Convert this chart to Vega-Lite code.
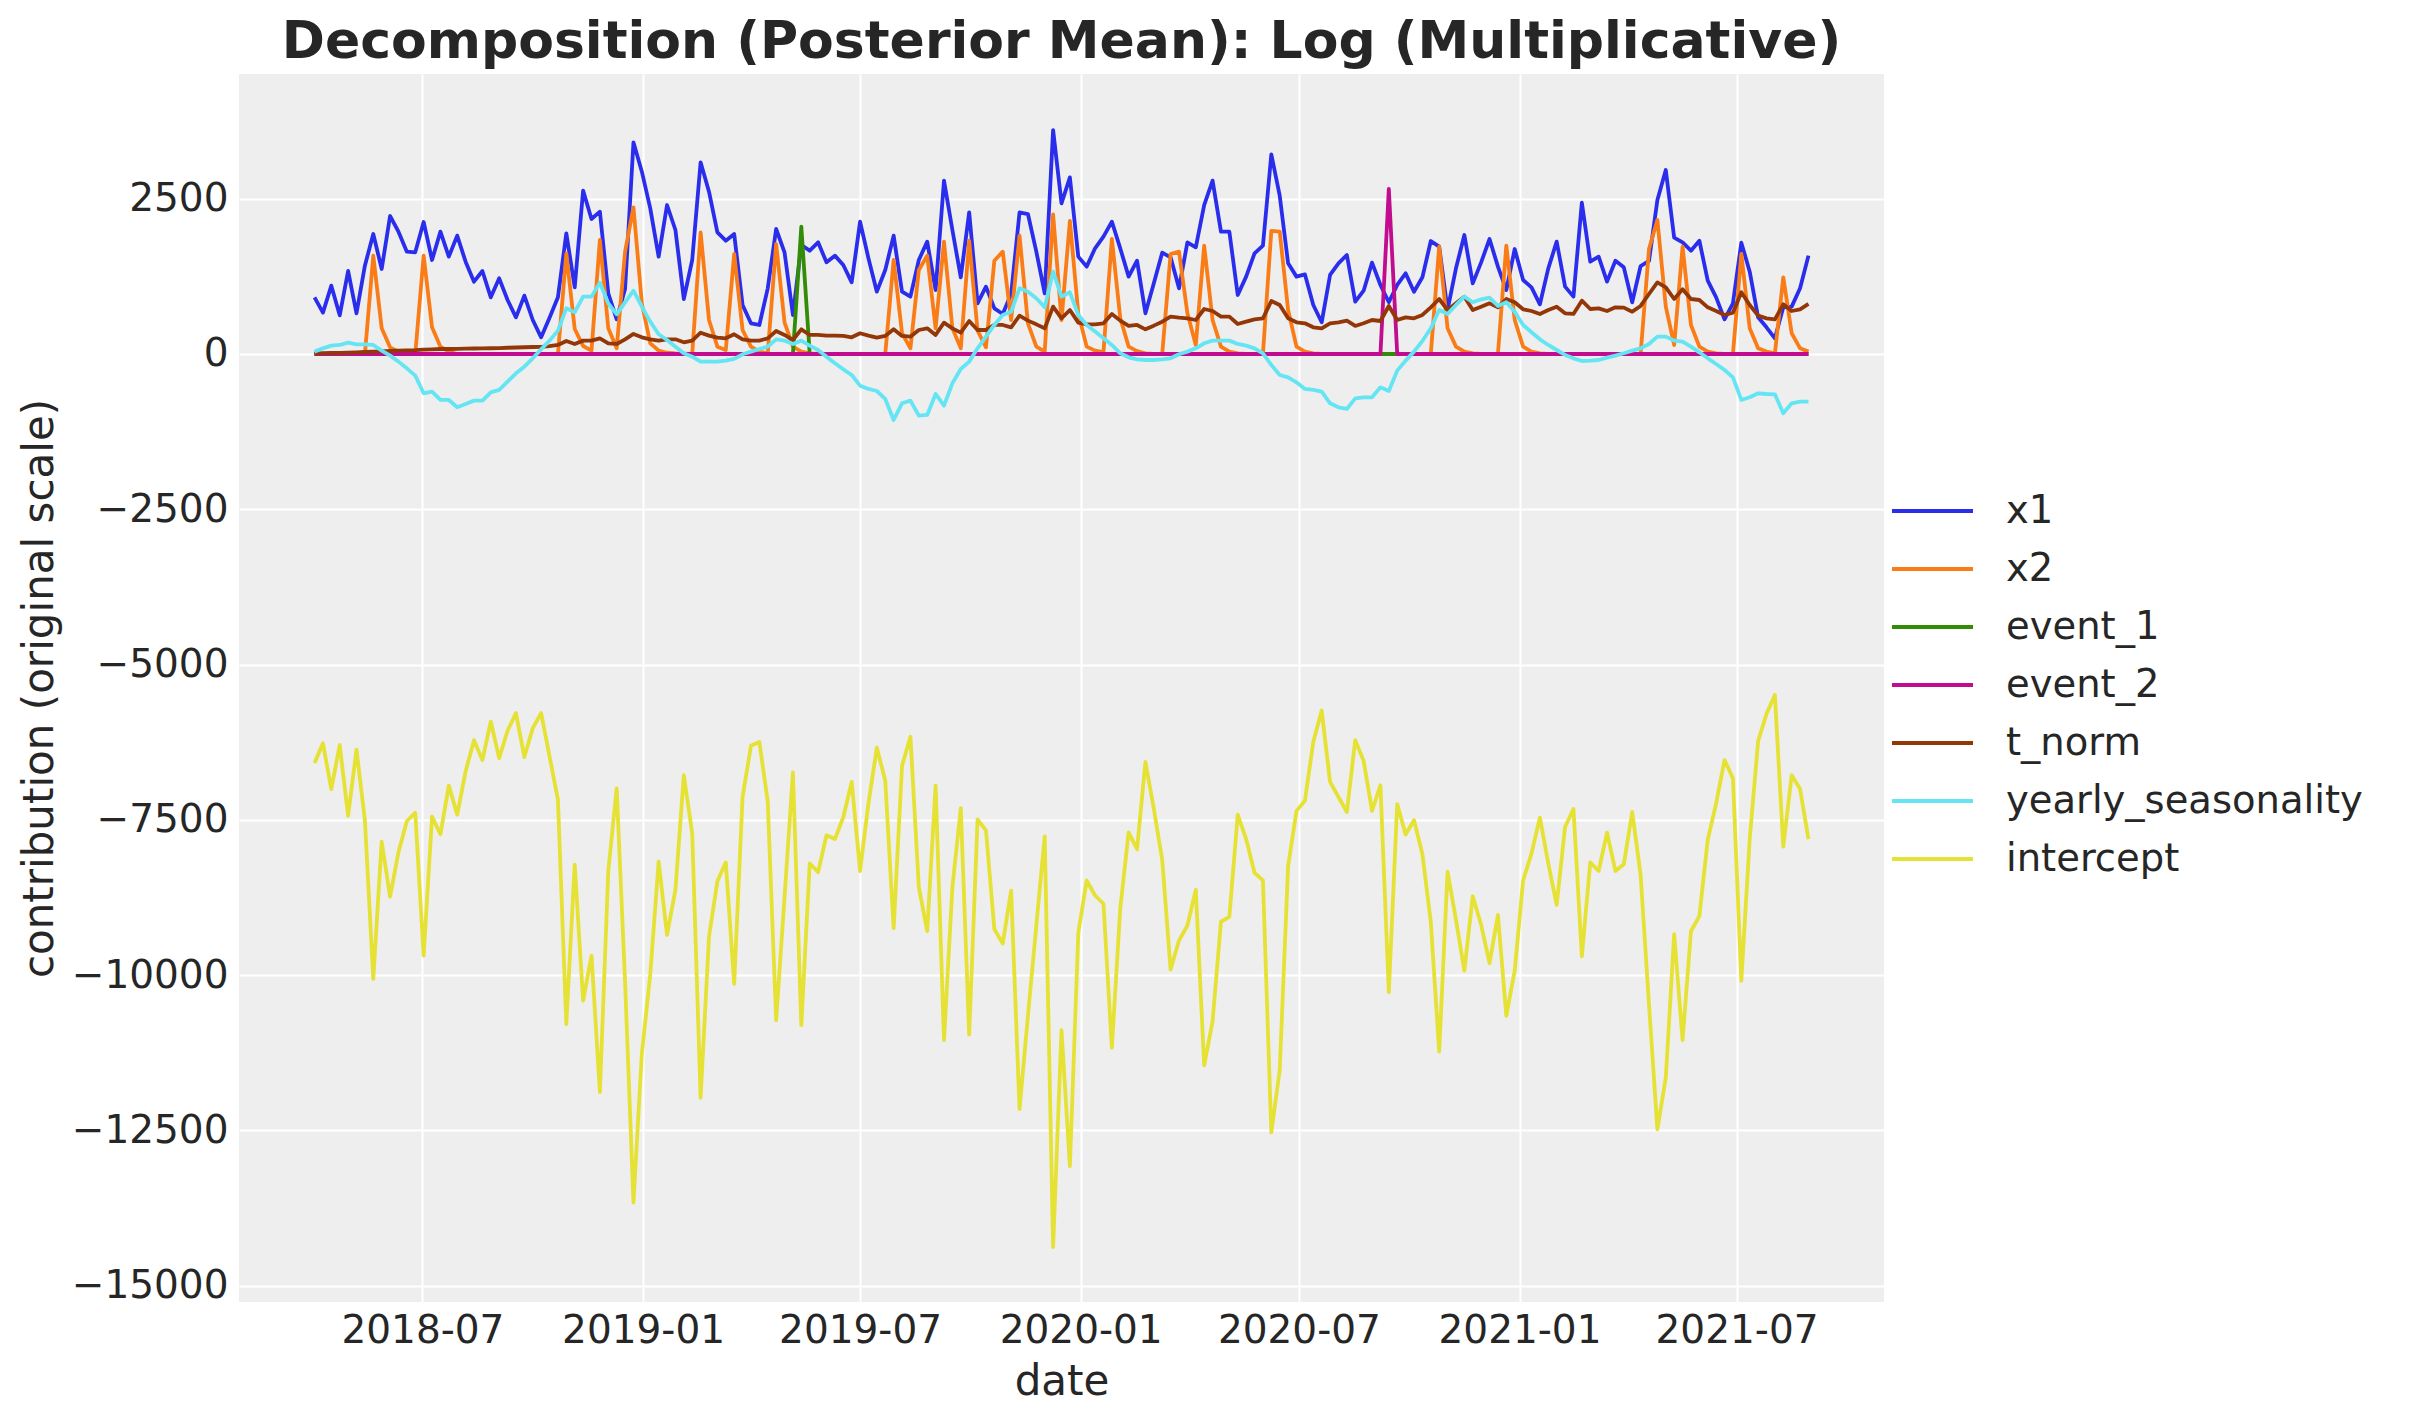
{
  "$schema": "https://vega.github.io/schema/vega-lite/v6.json",
  "autosize": {"type": "none"},
  "padding": {"left": 239, "top": 74, "right": 539, "bottom": 121},
  "width": 1645,
  "height": 1228,
  "background": "white",
  "title": {
    "text": "Decomposition (Posterior Mean): Log (Multiplicative)",
    "font": "DejaVu Sans",
    "fontSize": 52,
    "fontWeight": "bold",
    "color": "#262626",
    "anchor": "middle",
    "frame": "group",
    "baseline": "alphabetic",
    "offset": 15,
    "dy": 51
  },
  "config": {
    "font": "DejaVu Sans",
    "view": {"fill": "#eeeeee", "stroke": null},
    "line": {"strokeWidth": 3.8, "strokeJoin": "round"},
    "axis": {
      "domain": false,
      "ticks": false,
      "grid": true,
      "gridColor": "white",
      "gridWidth": 2,
      "gridOpacity": 1,
      "labelFont": "DejaVu Sans",
      "labelFontSize": 39,
      "labelColor": "#262626",
      "titleFont": "DejaVu Sans",
      "titleFontSize": 42,
      "titleFontWeight": "normal",
      "titleColor": "#262626",
      "labelOverlap": false,
      "labelFlush": false
    }
  },
  "data": {"values": [
    {"date":"2018-04-02","x1":912,"x2":0,"event_1":0,"event_2":0,"t_norm":10,"yearly_seasonality":38,"intercept":-6586},
    {"date":"2018-04-09","x1":665,"x2":0,"event_1":0,"event_2":0,"t_norm":13,"yearly_seasonality":91,"intercept":-6265},
    {"date":"2018-04-16","x1":1100,"x2":0,"event_1":0,"event_2":0,"t_norm":16,"yearly_seasonality":134,"intercept":-7004},
    {"date":"2018-04-23","x1":622,"x2":0,"event_1":0,"event_2":0,"t_norm":19,"yearly_seasonality":145,"intercept":-6295},
    {"date":"2018-04-30","x1":1336,"x2":0,"event_1":0,"event_2":0,"t_norm":22,"yearly_seasonality":182,"intercept":-7433},
    {"date":"2018-05-07","x1":655,"x2":0,"event_1":0,"event_2":0,"t_norm":27,"yearly_seasonality":156,"intercept":-6368},
    {"date":"2018-05-14","x1":1422,"x2":0,"event_1":0,"event_2":0,"t_norm":32,"yearly_seasonality":156,"intercept":-7506},
    {"date":"2018-05-21","x1":1931,"x2":1583,"event_1":0,"event_2":0,"t_norm":38,"yearly_seasonality":145,"intercept":-10060},
    {"date":"2018-05-28","x1":1368,"x2":413,"event_1":0,"event_2":0,"t_norm":43,"yearly_seasonality":54,"intercept":-7851},
    {"date":"2018-06-04","x1":2221,"x2":107,"event_1":0,"event_2":0,"t_norm":48,"yearly_seasonality":-27,"intercept":-8735},
    {"date":"2018-06-11","x1":1969,"x2":38,"event_1":0,"event_2":0,"t_norm":54,"yearly_seasonality":-123,"intercept":-8021},
    {"date":"2018-06-18","x1":1647,"x2":0,"event_1":0,"event_2":0,"t_norm":58,"yearly_seasonality":-231,"intercept":-7518},
    {"date":"2018-06-25","x1":1636,"x2":0,"event_1":0,"event_2":0,"t_norm":62,"yearly_seasonality":-349,"intercept":-7385},
    {"date":"2018-07-02","x1":2125,"x2":1583,"event_1":0,"event_2":0,"t_norm":70,"yearly_seasonality":-633,"intercept":-9685},
    {"date":"2018-07-09","x1":1513,"x2":429,"event_1":0,"event_2":0,"t_norm":75,"yearly_seasonality":-606,"intercept":-7446},
    {"date":"2018-07-16","x1":1969,"x2":118,"event_1":0,"event_2":0,"t_norm":80,"yearly_seasonality":-740,"intercept":-7730},
    {"date":"2018-07-23","x1":1567,"x2":38,"event_1":0,"event_2":0,"t_norm":80,"yearly_seasonality":-740,"intercept":-6949},
    {"date":"2018-07-30","x1":1905,"x2":0,"event_1":0,"event_2":0,"t_norm":82,"yearly_seasonality":-858,"intercept":-7415},
    {"date":"2018-08-06","x1":1486,"x2":0,"event_1":0,"event_2":0,"t_norm":85,"yearly_seasonality":-805,"intercept":-6719},
    {"date":"2018-08-13","x1":1164,"x2":0,"event_1":0,"event_2":0,"t_norm":88,"yearly_seasonality":-751,"intercept":-6217},
    {"date":"2018-08-20","x1":1336,"x2":0,"event_1":0,"event_2":0,"t_norm":90,"yearly_seasonality":-751,"intercept":-6538},
    {"date":"2018-08-27","x1":912,"x2":0,"event_1":0,"event_2":0,"t_norm":92,"yearly_seasonality":-617,"intercept":-5920},
    {"date":"2018-09-03","x1":1218,"x2":0,"event_1":0,"event_2":0,"t_norm":95,"yearly_seasonality":-579,"intercept":-6507},
    {"date":"2018-09-10","x1":869,"x2":0,"event_1":0,"event_2":0,"t_norm":100,"yearly_seasonality":-445,"intercept":-6065},
    {"date":"2018-09-17","x1":590,"x2":0,"event_1":0,"event_2":0,"t_norm":104,"yearly_seasonality":-311,"intercept":-5781},
    {"date":"2018-09-24","x1":939,"x2":0,"event_1":0,"event_2":0,"t_norm":108,"yearly_seasonality":-204,"intercept":-6489},
    {"date":"2018-10-01","x1":547,"x2":0,"event_1":0,"event_2":0,"t_norm":112,"yearly_seasonality":-70,"intercept":-6023},
    {"date":"2018-10-08","x1":268,"x2":0,"event_1":0,"event_2":0,"t_norm":115,"yearly_seasonality":75,"intercept":-5781},
    {"date":"2018-10-15","x1":585,"x2":0,"event_1":0,"event_2":0,"t_norm":125,"yearly_seasonality":215,"intercept":-6477},
    {"date":"2018-10-22","x1":912,"x2":0,"event_1":0,"event_2":0,"t_norm":145,"yearly_seasonality":376,"intercept":-7173},
    {"date":"2018-10-29","x1":1942,"x2":1620,"event_1":0,"event_2":0,"t_norm":209,"yearly_seasonality":735,"intercept":-10787},
    {"date":"2018-11-05","x1":1073,"x2":402,"event_1":0,"event_2":0,"t_norm":161,"yearly_seasonality":670,"intercept":-8220},
    {"date":"2018-11-12","x1":2629,"x2":129,"event_1":0,"event_2":0,"t_norm":215,"yearly_seasonality":923,"intercept":-10411},
    {"date":"2018-11-19","x1":2173,"x2":54,"event_1":0,"event_2":0,"t_norm":215,"yearly_seasonality":923,"intercept":-9685},
    {"date":"2018-11-26","x1":2291,"x2":1835,"event_1":0,"event_2":0,"t_norm":252,"yearly_seasonality":1148,"intercept":-11882},
    {"date":"2018-12-03","x1":976,"x2":413,"event_1":0,"event_2":0,"t_norm":172,"yearly_seasonality":815,"intercept":-8323},
    {"date":"2018-12-10","x1":558,"x2":91,"event_1":0,"event_2":0,"t_norm":161,"yearly_seasonality":638,"intercept":-6992},
    {"date":"2018-12-17","x1":1046,"x2":1647,"event_1":0,"event_2":0,"t_norm":236,"yearly_seasonality":832,"intercept":-10109},
    {"date":"2018-12-24","x1":3407,"x2":2361,"event_1":0,"event_2":0,"t_norm":322,"yearly_seasonality":1019,"intercept":-13662},
    {"date":"2018-12-31","x1":2935,"x2":815,"event_1":0,"event_2":0,"t_norm":268,"yearly_seasonality":762,"intercept":-11259},
    {"date":"2019-01-07","x1":2344,"x2":172,"event_1":0,"event_2":0,"t_norm":236,"yearly_seasonality":520,"intercept":-9988},
    {"date":"2019-01-14","x1":1567,"x2":54,"event_1":0,"event_2":0,"t_norm":215,"yearly_seasonality":317,"intercept":-8172},
    {"date":"2019-01-21","x1":2398,"x2":20,"event_1":0,"event_2":0,"t_norm":236,"yearly_seasonality":225,"intercept":-9352},
    {"date":"2019-01-28","x1":1996,"x2":10,"event_1":0,"event_2":0,"t_norm":236,"yearly_seasonality":118,"intercept":-8626},
    {"date":"2019-02-04","x1":885,"x2":5,"event_1":0,"event_2":0,"t_norm":188,"yearly_seasonality":11,"intercept":-6780},
    {"date":"2019-02-11","x1":1513,"x2":0,"event_1":0,"event_2":0,"t_norm":215,"yearly_seasonality":-43,"intercept":-7718},
    {"date":"2019-02-18","x1":3085,"x2":1958,"event_1":0,"event_2":0,"t_norm":343,"yearly_seasonality":-123,"intercept":-11973},
    {"date":"2019-02-25","x1":2613,"x2":547,"event_1":0,"event_2":0,"t_norm":295,"yearly_seasonality":-123,"intercept":-9382},
    {"date":"2019-03-04","x1":1958,"x2":118,"event_1":0,"event_2":0,"t_norm":263,"yearly_seasonality":-123,"intercept":-8487},
    {"date":"2019-03-11","x1":1824,"x2":64,"event_1":0,"event_2":0,"t_norm":252,"yearly_seasonality":-107,"intercept":-8184},
    {"date":"2019-03-18","x1":1931,"x2":1610,"event_1":0,"event_2":0,"t_norm":317,"yearly_seasonality":-80,"intercept":-10139},
    {"date":"2019-03-25","x1":789,"x2":386,"event_1":0,"event_2":0,"t_norm":236,"yearly_seasonality":-5,"intercept":-7131},
    {"date":"2019-04-01","x1":494,"x2":118,"event_1":0,"event_2":0,"t_norm":215,"yearly_seasonality":38,"intercept":-6308},
    {"date":"2019-04-08","x1":467,"x2":38,"event_1":0,"event_2":0,"t_norm":215,"yearly_seasonality":80,"intercept":-6247},
    {"date":"2019-04-15","x1":1057,"x2":10,"event_1":0,"event_2":0,"t_norm":252,"yearly_seasonality":118,"intercept":-7203},
    {"date":"2019-04-22","x1":2012,"x2":1770,"event_1":0,"event_2":0,"t_norm":370,"yearly_seasonality":236,"intercept":-10726},
    {"date":"2019-04-29","x1":1636,"x2":510,"event_1":0,"event_2":0,"t_norm":306,"yearly_seasonality":215,"intercept":-8747},
    {"date":"2019-05-06","x1":628,"x2":118,"event_1":0,"event_2":0,"t_norm":225,"yearly_seasonality":161,"intercept":-6737},
    {"date":"2019-05-13","x1":1754,"x2":38,"event_1":2049,"event_2":0,"t_norm":397,"yearly_seasonality":215,"intercept":-10805},
    {"date":"2019-05-20","x1":1663,"x2":10,"event_1":0,"event_2":0,"t_norm":306,"yearly_seasonality":134,"intercept":-8202},
    {"date":"2019-05-27","x1":1797,"x2":0,"event_1":0,"event_2":0,"t_norm":306,"yearly_seasonality":64,"intercept":-8341},
    {"date":"2019-06-03","x1":1475,"x2":0,"event_1":0,"event_2":0,"t_norm":295,"yearly_seasonality":-43,"intercept":-7748},
    {"date":"2019-06-10","x1":1583,"x2":0,"event_1":0,"event_2":0,"t_norm":295,"yearly_seasonality":-150,"intercept":-7809},
    {"date":"2019-06-17","x1":1432,"x2":0,"event_1":0,"event_2":0,"t_norm":290,"yearly_seasonality":-247,"intercept":-7458},
    {"date":"2019-06-24","x1":1153,"x2":0,"event_1":0,"event_2":0,"t_norm":268,"yearly_seasonality":-338,"intercept":-6889},
    {"date":"2019-07-01","x1":2130,"x2":0,"event_1":0,"event_2":0,"t_norm":333,"yearly_seasonality":-510,"intercept":-8323},
    {"date":"2019-07-08","x1":1540,"x2":0,"event_1":0,"event_2":0,"t_norm":295,"yearly_seasonality":-563,"intercept":-7234},
    {"date":"2019-07-15","x1":1003,"x2":0,"event_1":0,"event_2":0,"t_norm":263,"yearly_seasonality":-596,"intercept":-6338},
    {"date":"2019-07-22","x1":1352,"x2":0,"event_1":0,"event_2":0,"t_norm":290,"yearly_seasonality":-724,"intercept":-6870},
    {"date":"2019-07-29","x1":1905,"x2":1513,"event_1":0,"event_2":0,"t_norm":397,"yearly_seasonality":-1062,"intercept":-9243},
    {"date":"2019-08-05","x1":1003,"x2":333,"event_1":0,"event_2":0,"t_norm":290,"yearly_seasonality":-794,"intercept":-6628},
    {"date":"2019-08-12","x1":923,"x2":91,"event_1":0,"event_2":0,"t_norm":279,"yearly_seasonality":-751,"intercept":-6162},
    {"date":"2019-08-19","x1":1513,"x2":1352,"event_1":0,"event_2":0,"t_norm":386,"yearly_seasonality":-993,"intercept":-8583},
    {"date":"2019-08-26","x1":1808,"x2":1583,"event_1":0,"event_2":0,"t_norm":413,"yearly_seasonality":-982,"intercept":-9292},
    {"date":"2019-09-02","x1":1030,"x2":413,"event_1":0,"event_2":0,"t_norm":306,"yearly_seasonality":-644,"intercept":-6949},
    {"date":"2019-09-09","x1":2790,"x2":1808,"event_1":0,"event_2":0,"t_norm":504,"yearly_seasonality":-832,"intercept":-11047},
    {"date":"2019-09-16","x1":1996,"x2":413,"event_1":0,"event_2":0,"t_norm":413,"yearly_seasonality":-472,"intercept":-8583},
    {"date":"2019-09-23","x1":1234,"x2":91,"event_1":0,"event_2":0,"t_norm":343,"yearly_seasonality":-241,"intercept":-7312},
    {"date":"2019-09-30","x1":2280,"x2":1824,"event_1":0,"event_2":0,"t_norm":531,"yearly_seasonality":-123,"intercept":-10956},
    {"date":"2019-10-07","x1":815,"x2":376,"event_1":0,"event_2":0,"t_norm":386,"yearly_seasonality":91,"intercept":-7494},
    {"date":"2019-10-14","x1":1084,"x2":107,"event_1":0,"event_2":0,"t_norm":386,"yearly_seasonality":279,"intercept":-7669},
    {"date":"2019-10-21","x1":735,"x2":1502,"event_1":0,"event_2":0,"t_norm":467,"yearly_seasonality":467,"intercept":-9261},
    {"date":"2019-10-28","x1":644,"x2":1647,"event_1":0,"event_2":0,"t_norm":467,"yearly_seasonality":628,"intercept":-9491},
    {"date":"2019-11-04","x1":966,"x2":547,"event_1":0,"event_2":0,"t_norm":429,"yearly_seasonality":681,"intercept":-8638},
    {"date":"2019-11-11","x1":2280,"x2":1905,"event_1":0,"event_2":0,"t_norm":617,"yearly_seasonality":1057,"intercept":-12155},
    {"date":"2019-11-18","x1":2253,"x2":494,"event_1":0,"event_2":0,"t_norm":537,"yearly_seasonality":1003,"intercept":-10654},
    {"date":"2019-11-25","x1":1647,"x2":118,"event_1":0,"event_2":0,"t_norm":477,"yearly_seasonality":896,"intercept":-9201},
    {"date":"2019-12-02","x1":976,"x2":38,"event_1":0,"event_2":0,"t_norm":413,"yearly_seasonality":751,"intercept":-7766},
    {"date":"2019-12-09","x1":3605,"x2":2248,"event_1":0,"event_2":0,"t_norm":762,"yearly_seasonality":1325,"intercept":-14376},
    {"date":"2019-12-16","x1":2425,"x2":547,"event_1":0,"event_2":0,"t_norm":574,"yearly_seasonality":923,"intercept":-10884},
    {"date":"2019-12-23","x1":2843,"x2":2141,"event_1":0,"event_2":0,"t_norm":708,"yearly_seasonality":993,"intercept":-13075},
    {"date":"2019-12-30","x1":1567,"x2":650,"event_1":0,"event_2":0,"t_norm":504,"yearly_seasonality":628,"intercept":-9322},
    {"date":"2020-01-06","x1":1406,"x2":118,"event_1":0,"event_2":0,"t_norm":478,"yearly_seasonality":467,"intercept":-8475},
    {"date":"2020-01-13","x1":1701,"x2":54,"event_1":0,"event_2":0,"t_norm":478,"yearly_seasonality":360,"intercept":-8717},
    {"date":"2020-01-20","x1":1888,"x2":30,"event_1":0,"event_2":0,"t_norm":494,"yearly_seasonality":252,"intercept":-8850},
    {"date":"2020-01-27","x1":2130,"x2":1851,"event_1":0,"event_2":0,"t_norm":644,"yearly_seasonality":145,"intercept":-11168},
    {"date":"2020-02-03","x1":1701,"x2":580,"event_1":0,"event_2":0,"t_norm":537,"yearly_seasonality":11,"intercept":-8929},
    {"date":"2020-02-10","x1":1245,"x2":118,"event_1":0,"event_2":0,"t_norm":451,"yearly_seasonality":-54,"intercept":-7700},
    {"date":"2020-02-17","x1":1502,"x2":45,"event_1":0,"event_2":0,"t_norm":467,"yearly_seasonality":-86,"intercept":-7972},
    {"date":"2020-02-24","x1":655,"x2":10,"event_1":0,"event_2":0,"t_norm":397,"yearly_seasonality":-97,"intercept":-6568},
    {"date":"2020-03-02","x1":1137,"x2":0,"event_1":0,"event_2":0,"t_norm":456,"yearly_seasonality":-97,"intercept":-7324},
    {"date":"2020-03-09","x1":1631,"x2":0,"event_1":0,"event_2":0,"t_norm":520,"yearly_seasonality":-86,"intercept":-8142},
    {"date":"2020-03-16","x1":1556,"x2":1610,"event_1":0,"event_2":0,"t_norm":601,"yearly_seasonality":-70,"intercept":-9909},
    {"date":"2020-03-23","x1":1057,"x2":1647,"event_1":0,"event_2":0,"t_norm":585,"yearly_seasonality":-5,"intercept":-9443},
    {"date":"2020-03-30","x1":1797,"x2":655,"event_1":0,"event_2":0,"t_norm":574,"yearly_seasonality":38,"intercept":-9201},
    {"date":"2020-04-06","x1":1717,"x2":145,"event_1":0,"event_2":0,"t_norm":547,"yearly_seasonality":91,"intercept":-8626},
    {"date":"2020-04-13","x1":2398,"x2":1744,"event_1":0,"event_2":0,"t_norm":724,"yearly_seasonality":172,"intercept":-11453},
    {"date":"2020-04-20","x1":2790,"x2":547,"event_1":0,"event_2":0,"t_norm":692,"yearly_seasonality":215,"intercept":-10744},
    {"date":"2020-04-27","x1":1969,"x2":118,"event_1":0,"event_2":0,"t_norm":601,"yearly_seasonality":215,"intercept":-9140},
    {"date":"2020-05-04","x1":1969,"x2":38,"event_1":0,"event_2":0,"t_norm":601,"yearly_seasonality":215,"intercept":-9062},
    {"date":"2020-05-11","x1":950,"x2":10,"event_1":0,"event_2":0,"t_norm":483,"yearly_seasonality":161,"intercept":-7415},
    {"date":"2020-05-18","x1":1245,"x2":0,"event_1":0,"event_2":0,"t_norm":520,"yearly_seasonality":134,"intercept":-7809},
    {"date":"2020-05-25","x1":1620,"x2":0,"event_1":0,"event_2":0,"t_norm":558,"yearly_seasonality":91,"intercept":-8353},
    {"date":"2020-06-01","x1":1744,"x2":0,"event_1":0,"event_2":0,"t_norm":574,"yearly_seasonality":11,"intercept":-8475},
    {"date":"2020-06-08","x1":3214,"x2":1980,"event_1":0,"event_2":0,"t_norm":853,"yearly_seasonality":-177,"intercept":-12530},
    {"date":"2020-06-15","x1":2548,"x2":1969,"event_1":0,"event_2":0,"t_norm":788,"yearly_seasonality":-338,"intercept":-11531},
    {"date":"2020-06-22","x1":1459,"x2":708,"event_1":0,"event_2":0,"t_norm":574,"yearly_seasonality":-376,"intercept":-8245},
    {"date":"2020-06-29","x1":1245,"x2":118,"event_1":0,"event_2":0,"t_norm":510,"yearly_seasonality":-456,"intercept":-7355},
    {"date":"2020-07-06","x1":1282,"x2":38,"event_1":0,"event_2":0,"t_norm":494,"yearly_seasonality":-563,"intercept":-7191},
    {"date":"2020-07-13","x1":789,"x2":10,"event_1":0,"event_2":0,"t_norm":429,"yearly_seasonality":-579,"intercept":-6247},
    {"date":"2020-07-20","x1":510,"x2":0,"event_1":0,"event_2":0,"t_norm":413,"yearly_seasonality":-606,"intercept":-5739},
    {"date":"2020-07-27","x1":1272,"x2":0,"event_1":0,"event_2":0,"t_norm":494,"yearly_seasonality":-794,"intercept":-6889},
    {"date":"2020-08-03","x1":1459,"x2":0,"event_1":0,"event_2":0,"t_norm":510,"yearly_seasonality":-858,"intercept":-7131},
    {"date":"2020-08-10","x1":1593,"x2":0,"event_1":0,"event_2":0,"t_norm":537,"yearly_seasonality":-885,"intercept":-7373},
    {"date":"2020-08-17","x1":842,"x2":0,"event_1":0,"event_2":0,"t_norm":451,"yearly_seasonality":-714,"intercept":-6217},
    {"date":"2020-08-24","x1":1019,"x2":0,"event_1":0,"event_2":0,"t_norm":494,"yearly_seasonality":-697,"intercept":-6550},
    {"date":"2020-08-31","x1":1470,"x2":0,"event_1":0,"event_2":0,"t_norm":547,"yearly_seasonality":-697,"intercept":-7355},
    {"date":"2020-09-07","x1":1111,"x2":0,"event_1":0,"event_2":0,"t_norm":531,"yearly_seasonality":-537,"intercept":-6943},
    {"date":"2020-09-14","x1":832,"x2":0,"event_1":0,"event_2":2656,"t_norm":773,"yearly_seasonality":-596,"intercept":-10272},
    {"date":"2020-09-21","x1":1111,"x2":0,"event_1":0,"event_2":0,"t_norm":547,"yearly_seasonality":-268,"intercept":-7246},
    {"date":"2020-09-28","x1":1298,"x2":0,"event_1":0,"event_2":0,"t_norm":590,"yearly_seasonality":-107,"intercept":-7736},
    {"date":"2020-10-05","x1":1003,"x2":0,"event_1":0,"event_2":0,"t_norm":574,"yearly_seasonality":38,"intercept":-7506},
    {"date":"2020-10-12","x1":1234,"x2":0,"event_1":0,"event_2":0,"t_norm":628,"yearly_seasonality":209,"intercept":-8051},
    {"date":"2020-10-19","x1":1819,"x2":0,"event_1":0,"event_2":0,"t_norm":751,"yearly_seasonality":413,"intercept":-9140},
    {"date":"2020-10-26","x1":1728,"x2":1728,"event_1":0,"event_2":0,"t_norm":885,"yearly_seasonality":708,"intercept":-11229},
    {"date":"2020-11-02","x1":708,"x2":413,"event_1":0,"event_2":0,"t_norm":708,"yearly_seasonality":644,"intercept":-8335},
    {"date":"2020-11-09","x1":1379,"x2":118,"event_1":0,"event_2":0,"t_norm":815,"yearly_seasonality":789,"intercept":-9110},
    {"date":"2020-11-16","x1":1915,"x2":38,"event_1":0,"event_2":0,"t_norm":923,"yearly_seasonality":923,"intercept":-9927},
    {"date":"2020-11-23","x1":1137,"x2":10,"event_1":0,"event_2":0,"t_norm":708,"yearly_seasonality":832,"intercept":-8729},
    {"date":"2020-11-30","x1":1475,"x2":0,"event_1":0,"event_2":0,"t_norm":762,"yearly_seasonality":880,"intercept":-9189},
    {"date":"2020-12-07","x1":1851,"x2":0,"event_1":0,"event_2":0,"t_norm":815,"yearly_seasonality":907,"intercept":-9806},
    {"date":"2020-12-14","x1":1406,"x2":0,"event_1":0,"event_2":0,"t_norm":751,"yearly_seasonality":773,"intercept":-9031},
    {"date":"2020-12-21","x1":1030,"x2":1744,"event_1":0,"event_2":0,"t_norm":885,"yearly_seasonality":832,"intercept":-10654},
    {"date":"2020-12-28","x1":1690,"x2":547,"event_1":0,"event_2":0,"t_norm":832,"yearly_seasonality":681,"intercept":-9927},
    {"date":"2021-01-04","x1":1191,"x2":118,"event_1":0,"event_2":0,"t_norm":719,"yearly_seasonality":467,"intercept":-8475},
    {"date":"2021-01-11","x1":1073,"x2":38,"event_1":0,"event_2":0,"t_norm":692,"yearly_seasonality":349,"intercept":-8039},
    {"date":"2021-01-18","x1":799,"x2":10,"event_1":0,"event_2":0,"t_norm":644,"yearly_seasonality":236,"intercept":-7464},
    {"date":"2021-01-25","x1":1379,"x2":0,"event_1":0,"event_2":0,"t_norm":708,"yearly_seasonality":145,"intercept":-8202},
    {"date":"2021-02-01","x1":1808,"x2":0,"event_1":0,"event_2":0,"t_norm":762,"yearly_seasonality":64,"intercept":-8868},
    {"date":"2021-02-08","x1":1084,"x2":0,"event_1":0,"event_2":0,"t_norm":655,"yearly_seasonality":-16,"intercept":-7615},
    {"date":"2021-02-15","x1":923,"x2":0,"event_1":0,"event_2":0,"t_norm":644,"yearly_seasonality":-70,"intercept":-7324},
    {"date":"2021-02-22","x1":2436,"x2":0,"event_1":0,"event_2":0,"t_norm":858,"yearly_seasonality":-113,"intercept":-9697},
    {"date":"2021-03-01","x1":1486,"x2":0,"event_1":0,"event_2":0,"t_norm":724,"yearly_seasonality":-107,"intercept":-8184},
    {"date":"2021-03-08","x1":1567,"x2":0,"event_1":0,"event_2":0,"t_norm":735,"yearly_seasonality":-97,"intercept":-8323},
    {"date":"2021-03-15","x1":1164,"x2":0,"event_1":0,"event_2":0,"t_norm":692,"yearly_seasonality":-59,"intercept":-7706},
    {"date":"2021-03-22","x1":1502,"x2":0,"event_1":0,"event_2":0,"t_norm":751,"yearly_seasonality":-27,"intercept":-8323},
    {"date":"2021-03-29","x1":1395,"x2":0,"event_1":0,"event_2":0,"t_norm":746,"yearly_seasonality":11,"intercept":-8214},
    {"date":"2021-04-05","x1":832,"x2":0,"event_1":0,"event_2":0,"t_norm":681,"yearly_seasonality":54,"intercept":-7373},
    {"date":"2021-04-12","x1":1416,"x2":0,"event_1":0,"event_2":0,"t_norm":773,"yearly_seasonality":91,"intercept":-8384},
    {"date":"2021-04-19","x1":1497,"x2":1690,"event_1":0,"event_2":0,"t_norm":966,"yearly_seasonality":161,"intercept":-10472},
    {"date":"2021-04-26","x1":2479,"x2":2157,"event_1":0,"event_2":0,"t_norm":1153,"yearly_seasonality":279,"intercept":-12482},
    {"date":"2021-05-03","x1":2961,"x2":762,"event_1":0,"event_2":0,"t_norm":1073,"yearly_seasonality":279,"intercept":-11652},
    {"date":"2021-05-10","x1":1872,"x2":145,"event_1":0,"event_2":0,"t_norm":885,"yearly_seasonality":215,"intercept":-9340},
    {"date":"2021-05-17","x1":1797,"x2":1728,"event_1":0,"event_2":0,"t_norm":1041,"yearly_seasonality":199,"intercept":-11047},
    {"date":"2021-05-24","x1":1663,"x2":467,"event_1":0,"event_2":0,"t_norm":885,"yearly_seasonality":118,"intercept":-9292},
    {"date":"2021-05-31","x1":1824,"x2":118,"event_1":0,"event_2":0,"t_norm":869,"yearly_seasonality":27,"intercept":-9050},
    {"date":"2021-06-07","x1":1180,"x2":38,"event_1":0,"event_2":0,"t_norm":751,"yearly_seasonality":-70,"intercept":-7821},
    {"date":"2021-06-14","x1":912,"x2":10,"event_1":0,"event_2":0,"t_norm":692,"yearly_seasonality":-161,"intercept":-7234},
    {"date":"2021-06-21","x1":558,"x2":0,"event_1":0,"event_2":0,"t_norm":628,"yearly_seasonality":-258,"intercept":-6538},
    {"date":"2021-06-28","x1":815,"x2":0,"event_1":0,"event_2":0,"t_norm":665,"yearly_seasonality":-376,"intercept":-6828},
    {"date":"2021-07-05","x1":1792,"x2":1610,"event_1":0,"event_2":0,"t_norm":993,"yearly_seasonality":-740,"intercept":-10091},
    {"date":"2021-07-12","x1":1325,"x2":413,"event_1":0,"event_2":0,"t_norm":789,"yearly_seasonality":-697,"intercept":-7809},
    {"date":"2021-07-19","x1":590,"x2":91,"event_1":0,"event_2":0,"t_norm":617,"yearly_seasonality":-633,"intercept":-6235},
    {"date":"2021-07-26","x1":429,"x2":38,"event_1":0,"event_2":0,"t_norm":574,"yearly_seasonality":-644,"intercept":-5793},
    {"date":"2021-08-02","x1":252,"x2":10,"event_1":0,"event_2":0,"t_norm":558,"yearly_seasonality":-649,"intercept":-5490},
    {"date":"2021-08-09","x1":751,"x2":1234,"event_1":0,"event_2":0,"t_norm":799,"yearly_seasonality":-955,"intercept":-7930},
    {"date":"2021-08-16","x1":762,"x2":333,"event_1":0,"event_2":0,"t_norm":692,"yearly_seasonality":-794,"intercept":-6780},
    {"date":"2021-08-23","x1":1057,"x2":91,"event_1":0,"event_2":0,"t_norm":719,"yearly_seasonality":-767,"intercept":-7004},
    {"date":"2021-08-30","x1":1583,"x2":38,"event_1":0,"event_2":0,"t_norm":805,"yearly_seasonality":-767,"intercept":-7809}
  ]},
  "encoding": {
    "x": {
      "field": "date",
      "type": "temporal",
      "title": "date",
      "scale": {
        "type": "utc",
        "domain": [
          {"year": 2018, "month": 1, "date": 29, "utc": true},
          {"year": 2021, "month": 11, "date": 1, "utc": true}
        ]
      },
      "axis": {
        "values": [
          {"year": 2018, "month": 7, "date": 1, "utc": true},
          {"year": 2019, "month": 1, "date": 1, "utc": true},
          {"year": 2019, "month": 7, "date": 1, "utc": true},
          {"year": 2020, "month": 1, "date": 1, "utc": true},
          {"year": 2020, "month": 7, "date": 1, "utc": true},
          {"year": 2021, "month": 1, "date": 1, "utc": true},
          {"year": 2021, "month": 7, "date": 1, "utc": true}
        ],
        "format": "%Y-%m",
        "labelPadding": 9,
        "titleY": 92,
        "titleBaseline": "alphabetic"
      }
    }
  },
  "layer": [
    {
      "mark": "line",
      "encoding": {
        "y": {"field": "x1", "type": "quantitative", "title": "contribution (original scale)",
          "scale": {"domain": [-15261, 4507], "nice": false, "zero": false},
          "axis": {"values": [-15000, -12500, -10000, -7500, -5000, -2500, 0, 2500], "format": "d", "labelPadding": 11, "titleX": -187, "titleY": 614, "titleAngle": -90, "titleBaseline": "alphabetic", "titleAlign": "center"}},
        "color": {
          "datum": "x1",
          "scale": {
            "domain": ["x1", "x2", "event_1", "event_2", "t_norm", "yearly_seasonality", "intercept"],
            "range": ["#2a2eec", "#fa7c17", "#328c06", "#c10c90", "#933708", "#65e5f3", "#e6e135"]
          },
          "legend": {
            "orient": "none",
            "legendX": 1651,
            "legendY": 408,
            "title": null,
            "padding": 0,
            "symbolType": "stroke",
            "symbolSize": 6561,
            "symbolStrokeWidth": 3.8,
            "labelFont": "DejaVu Sans",
            "labelFontSize": 38.5,
            "labelColor": "#262626",
            "labelOffset": 31,
            "labelLimit": 800,
            "clipHeight": 58,
            "rowPadding": 0
          }
        }
      }
    },
    {
      "mark": "line",
      "encoding": {
        "y": {"field": "x2", "type": "quantitative", "title": "contribution (original scale)",
          "scale": {"domain": [-15261, 4507], "nice": false, "zero": false},
          "axis": {"values": [-15000, -12500, -10000, -7500, -5000, -2500, 0, 2500], "format": "d", "labelPadding": 11, "titleX": -187, "titleY": 614, "titleAngle": -90, "titleBaseline": "alphabetic", "titleAlign": "center"}},
        "color": {"datum": "x2"}
      }
    },
    {
      "mark": "line",
      "encoding": {
        "y": {"field": "event_1", "type": "quantitative", "title": "contribution (original scale)",
          "scale": {"domain": [-15261, 4507], "nice": false, "zero": false},
          "axis": {"values": [-15000, -12500, -10000, -7500, -5000, -2500, 0, 2500], "format": "d", "labelPadding": 11, "titleX": -187, "titleY": 614, "titleAngle": -90, "titleBaseline": "alphabetic", "titleAlign": "center"}},
        "color": {"datum": "event_1"}
      }
    },
    {
      "mark": "line",
      "encoding": {
        "y": {"field": "event_2", "type": "quantitative", "title": "contribution (original scale)",
          "scale": {"domain": [-15261, 4507], "nice": false, "zero": false},
          "axis": {"values": [-15000, -12500, -10000, -7500, -5000, -2500, 0, 2500], "format": "d", "labelPadding": 11, "titleX": -187, "titleY": 614, "titleAngle": -90, "titleBaseline": "alphabetic", "titleAlign": "center"}},
        "color": {"datum": "event_2"}
      }
    },
    {
      "mark": "line",
      "encoding": {
        "y": {"field": "t_norm", "type": "quantitative", "title": "contribution (original scale)",
          "scale": {"domain": [-15261, 4507], "nice": false, "zero": false},
          "axis": {"values": [-15000, -12500, -10000, -7500, -5000, -2500, 0, 2500], "format": "d", "labelPadding": 11, "titleX": -187, "titleY": 614, "titleAngle": -90, "titleBaseline": "alphabetic", "titleAlign": "center"}},
        "color": {"datum": "t_norm"}
      }
    },
    {
      "mark": "line",
      "encoding": {
        "y": {"field": "yearly_seasonality", "type": "quantitative", "title": "contribution (original scale)",
          "scale": {"domain": [-15261, 4507], "nice": false, "zero": false},
          "axis": {"values": [-15000, -12500, -10000, -7500, -5000, -2500, 0, 2500], "format": "d", "labelPadding": 11, "titleX": -187, "titleY": 614, "titleAngle": -90, "titleBaseline": "alphabetic", "titleAlign": "center"}},
        "color": {"datum": "yearly_seasonality"}
      }
    },
    {
      "mark": "line",
      "encoding": {
        "y": {"field": "intercept", "type": "quantitative", "title": "contribution (original scale)",
          "scale": {"domain": [-15261, 4507], "nice": false, "zero": false},
          "axis": {"values": [-15000, -12500, -10000, -7500, -5000, -2500, 0, 2500], "format": "d", "labelPadding": 11, "titleX": -187, "titleY": 614, "titleAngle": -90, "titleBaseline": "alphabetic", "titleAlign": "center"}},
        "color": {"datum": "intercept"}
      }
    }
  ]
}
